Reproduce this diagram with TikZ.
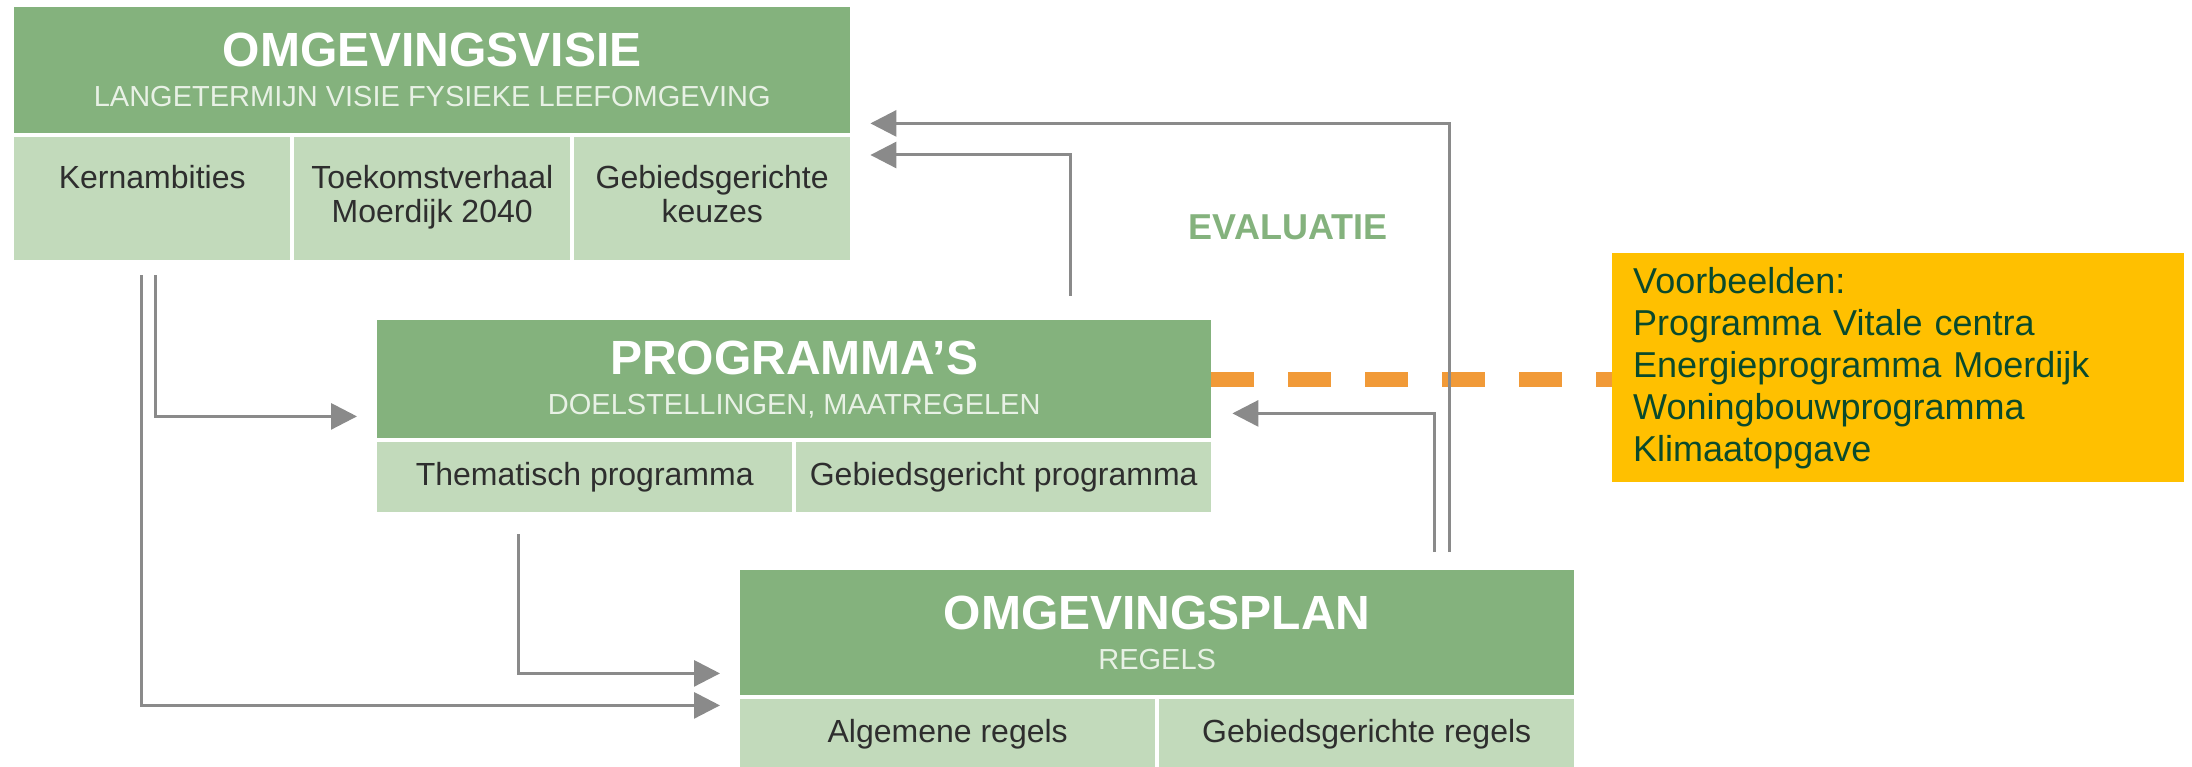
\documentclass[tikz,border=0pt]{standalone}
\usepackage{fontspec}
\setmainfont{Liberation Sans}
\usetikzlibrary{arrows.meta, calc}
\definecolor{kopgroen}{HTML}{84B27D}
\definecolor{vakgroen}{HTML}{C2DABB}
\definecolor{subwit}{HTML}{E8F1E5}
\definecolor{tekstgrijs}{HTML}{2E2E2E}
\definecolor{pijlgrijs}{HTML}{8A8A8A}
\definecolor{geel}{HTML}{FFC000}
\definecolor{oranje}{HTML}{F19A38}
\definecolor{donkergroen}{HTML}{0A4A2C}
\newcommand{\koptitel}[1]{{\color{white}\bfseries\fontsize{48}{40}\selectfont #1}}
\tikzstyle{kop}=[rectangle, anchor=north west, fill=kopgroen, inner sep=0pt, align=center, text=subwit, font=\fontsize{29}{40}\selectfont]
\tikzstyle{vak}=[rectangle, anchor=north west, fill=vakgroen, inner sep=0pt, align=center, text=tekstgrijs, font=\fontsize{32}{34}\selectfont]
\tikzstyle{voorbeeld}=[rectangle, anchor=north west, fill=geel, text=donkergroen, align=left, text width=530pt, inner xsep=21pt, inner ysep=0pt, minimum height=229pt, font=\fontsize{36}{42}\selectfont]
\tikzstyle{pijl}=[draw=pijlgrijs, line width=3pt, -{Triangle[length=26pt,width=26pt]}]
\tikzstyle{streep}=[draw=oranje, line width=15pt, dash pattern=on 43pt off 34pt]

\begin{document}
\begin{tikzpicture}[x=1pt, y=-1pt]
\useasboundingbox (0,0) rectangle (2192,767);
% omgevingsvisie
\node[kop, minimum width=836pt, minimum height=126pt] (vis) at (14,7) {\koptitel{OMGEVINGSVISIE}\\LANGETERMIJN VISIE FYSIEKE LEEFOMGEVING};
\node[vak, minimum width=276pt, minimum height=123pt] (visa) at (14,137) {Kernambities\\\strut};
\node[vak, minimum width=276pt, minimum height=123pt] (visb) at (294,137) {Toekomstverhaal\\Moerdijk 2040\strut};
\node[vak, minimum width=276pt, minimum height=123pt] (visc) at (574,137) {Gebiedsgerichte\\keuzes\strut};
% programma's
\node[kop, minimum width=834pt, minimum height=118pt] (prog) at (377,320) {\koptitel{PROGRAMMA’S}\\DOELSTELLINGEN, MAATREGELEN};
\node[vak, minimum width=415pt, minimum height=70pt] (proga) at (377,442) {Thematisch programma};
\node[vak, minimum width=415pt, minimum height=70pt] (progb) at (796,442) {Gebiedsgericht programma};
% omgevingsplan
\node[kop, minimum width=834pt, minimum height=125pt] (plan) at (740,570) {\koptitel{OMGEVINGSPLAN}\\REGELS};
\node[vak, minimum width=415pt, minimum height=70pt] (plana) at (740,699) {Algemene regels};
\node[vak, minimum width=415pt, minimum height=70pt] (planb) at (1159,699) {Gebiedsgerichte regels};

\node[font=\bfseries\fontsize{36}{36}\selectfont, text=kopgroen] (eval) at (1288,227) {EVALUATIE};
\node[voorbeeld] (voorb) at (1612,253) {Voorbeelden:\\Programma Vitale centra\\Energieprogramma Moerdijk\\Woningbouwprogramma\\Klimaatopgave};

\draw[streep] (prog.east) -- (prog.east -| voorb.west);

\draw[pijl] ($(visa.south west)+(141,15)$) |- ($(prog.south west)+(-20,-22)$);
\draw[pijl] ($(visa.south west)+(127,15)$) |- ($(plan.south west)+(-20,10)$);
\draw[pijl] ($(proga.south west)+(141,22)$) |- ($(plan.south west)+(-20,-22)$);
\draw[pijl] ($(prog.north west)+(693,-24)$) |- ($(visc.north east)+(20,18)$);
\draw[pijl] ($(plan.north west)+(709,-18)$) |- ($(vis.south east)+(20,-10)$);
\draw[pijl] ($(plan.north west)+(694,-18)$) |- ($(prog.south east)+(21,-25)$);
\end{tikzpicture}
\end{document}
